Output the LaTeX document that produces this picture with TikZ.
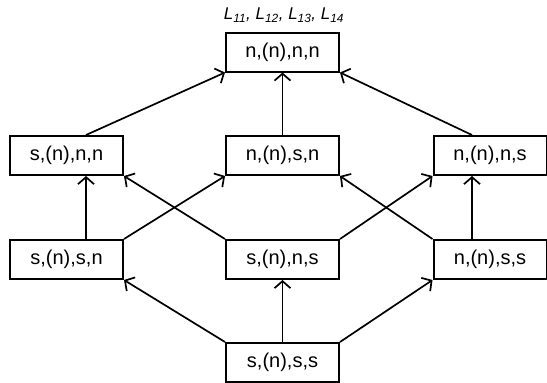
\documentclass[tikz,border=0pt]{standalone}
\usepackage{fontspec}
\setmainfont{Liberation Sans}
\usetikzlibrary{arrows.meta}
\begin{document}
\begin{tikzpicture}[x=1pt,y=-1pt,
 box/.style={draw, line width=2pt, minimum width=113pt, minimum height=39pt, inner sep=0pt, font=\fontsize{20}{20}\selectfont},
 arr/.style={line width=1.7pt, -{Straight Barb[length=7pt,width=16pt]}}]
\useasboundingbox (0,0) rectangle (547,383);
\node[font=\fontsize{17}{17}\selectfont\itshape] (lab) at (284,15) {L\textsubscript{11}, L\textsubscript{12}, L\textsubscript{13}, L\textsubscript{14}};
\node[box] (top)  at (282.5,52) {n,(n),n,n};
\node[box] (snnn) at (66.5,155.5) {s,(n),n,n};
\node[box] (nnsn) at (282.5,155.5) {n,(n),s,n};
\node[box] (nnns) at (490,155.5) {n,(n),n,s};
\node[box] (snsn) at (66.5,259.5) {s,(n),s,n};
\node[box] (snns) at (282.5,259.5) {s,(n),n,s};
\node[box] (nnss) at (490,259.5) {n,(n),s,s};
\node[box] (snss) at (282.5,362.5) {s,(n),s,s};
\draw[arr] ([xshift=19.5pt]snnn.north) -- (top.south west);
\draw[arr] (nnsn.north) -- (top.south);
\draw[arr] ([xshift=-18pt]nnns.north) -- (top.south east);
\draw[arr] ([xshift=19.5pt]snsn.north) -- ([xshift=19.5pt]snnn.south);
\draw[arr] (snsn.north east) -- (nnsn.south west);
\draw[arr] (snns.north west) -- (snnn.south east);
\draw[arr] (snns.north east) -- (nnns.south west);
\draw[arr] (nnss.north west) -- (nnsn.south east);
\draw[arr] ([xshift=-18pt]nnss.north) -- ([xshift=-18pt]nnns.south);
\draw[arr] (snss.north west) -- (snsn.south east);
\draw[arr] (snss.north) -- (snns.south);
\draw[arr] (snss.north east) -- (nnss.south west);
\end{tikzpicture}
\end{document}
